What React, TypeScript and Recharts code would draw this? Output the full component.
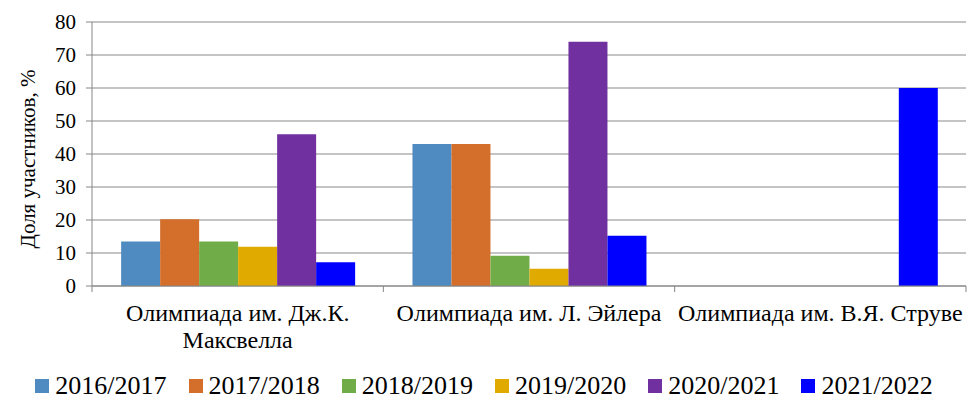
import React from "react";
import { BarChart, Bar, XAxis, YAxis, CartesianGrid, Legend } from "recharts";

const categories = [
  "Олимпиада им. Дж.К. Максвелла",
  "Олимпиада им. Л. Эйлера",
  "Олимпиада им. В.Я. Струве",
];
const seriesNames = ["2016/2017", "2017/2018", "2018/2019", "2019/2020", "2020/2021", "2021/2022"];
const seriesColors = ["#4f8bc0", "#d46f2b", "#70ac47", "#e0aa00", "#7030a0", "#0000ff"];
const s2016 = [13.5, 43, 0];
const s2017 = [20.2, 43, 0];
const s2018 = [13.5, 9.2, 0];
const s2019 = [11.9, 5.2, 0];
const s2020 = [46, 74, 0];
const s2021 = [7.2, 15.2, 60];
const seriesValues = [s2016, s2017, s2018, s2019, s2020, s2021];
const yTicks = [0, 10, 20, 30, 40, 50, 60, 70, 80];
const yLabel = "Доля участников, %";

const data = categories.map((c, i) => {
  const row: any = { name: c };
  seriesNames.forEach((s, j) => {
    row[s] = seriesValues[j][i];
  });
  return row;
});

const FONT = "Liberation Serif";
const AXIS = "#868686";
const X_FONT_SIZE = 24;

let measureCtx: CanvasRenderingContext2D | null = null;
function measure(text: string): number {
  if (!measureCtx) {
    const c = document.createElement("canvas");
    measureCtx = c.getContext("2d");
  }
  if (!measureCtx) return text.length * X_FONT_SIZE * 0.45;
  measureCtx.font = `${X_FONT_SIZE}px "${FONT}", serif`;
  return measureCtx.measureText(text).width;
}

function wrap(text: string, maxWidth: number): string[] {
  const words = text.split(" ");
  const lines: string[] = [];
  let cur = "";
  for (const w of words) {
    const next = cur ? cur + " " + w : w;
    if (cur && measure(next) > maxWidth) {
      lines.push(cur);
      cur = w;
    } else {
      cur = next;
    }
  }
  if (cur) lines.push(cur);
  return lines;
}

const XTick = (props: any) => {
  const { x, y, payload, index, width } = props;
  const band = (width || 874) / categories.length;
  const axisY = y - 10;
  const lines = wrap(String(payload.value), band - 3);
  return (
    <g>
      <line x1={x - band / 2} x2={x - band / 2} y1={axisY} y2={axisY + 6} stroke={AXIS} />
      {index === categories.length - 1 && (
        <line x1={x + band / 2} x2={x + band / 2} y1={axisY} y2={axisY + 6} stroke={AXIS} />
      )}
      <text x={x} y={y + 25} textAnchor="middle" fontFamily={FONT} fontSize={X_FONT_SIZE} fill="#000">
        {lines.map((l, i) => (
          <tspan key={i} x={x} dy={i === 0 ? 0 : 27}>
            {l}
          </tspan>
        ))}
      </text>
    </g>
  );
};

const LegendContent = () => (
  <div
    style={{
      display: "flex",
      justifyContent: "center",
      alignItems: "center",
      boxSizing: "border-box",
      height: 40,
      paddingTop: 3,
      fontFamily: FONT,
      fontSize: 26,
      color: "#000",
      gap: 22,
      width: 968,
    }}
  >
    {seriesNames.map((s, i) => (
      <div key={s} style={{ display: "flex", alignItems: "center" }}>
        <span style={{ display: "inline-block", width: 14, height: 14, background: seriesColors[i], marginRight: 6 }} />
        <span>{s}</span>
      </div>
    ))}
  </div>
);

const YLabel = (props: any) => {
  const vb = props.viewBox || { x: 32, y: 22, width: 60, height: 264 };
  const cx = vb.x - 4;
  const cy = vb.y + vb.height / 2 + 5;
  return (
    <text
      x={cx}
      y={cy}
      transform={`rotate(-90, ${cx}, ${cy})`}
      textAnchor="middle"
      dominantBaseline="central"
      fontFamily={FONT}
      fontSize={21}
      fill="#000"
    >
      {yLabel}
    </text>
  );
};

export default function App() {
  return (
    <div style={{ position: "absolute", left: 0, top: 0, width: 968, height: 404, background: "#fff" }}>
      <BarChart
        width={968}
        height={404}
        data={data}
        margin={{ top: 22, right: 2, bottom: 0, left: 32 }}
        barCategoryGap="10%"
        barGap={0}
      >
        <CartesianGrid vertical={false} stroke="#b0b0b0" strokeWidth={1.3} />
        <XAxis
          dataKey="name"
          height={78}
          axisLine={{ stroke: AXIS }}
          tickLine={false}
          tickSize={6}
          tickMargin={4}
          interval={0}
          tick={<XTick />}
        />
        <YAxis
          width={60}
          domain={[0, 80]}
          ticks={yTicks}
          interval={0}
          axisLine={{ stroke: AXIS }}
          tickLine={{ stroke: AXIS }}
          tickSize={6}
          tickMargin={10}
          tick={{ fill: "#000", fontSize: 21, fontFamily: FONT }}
          label={<YLabel />}
        />
        <Legend verticalAlign="bottom" wrapperStyle={{ left: 0, width: 968 }} content={<LegendContent />} />
        {seriesNames.map((s, i) => (
          <Bar key={s} dataKey={s} fill={seriesColors[i]} isAnimationActive={false} />
        ))}
      </BarChart>
    </div>
  );
}
